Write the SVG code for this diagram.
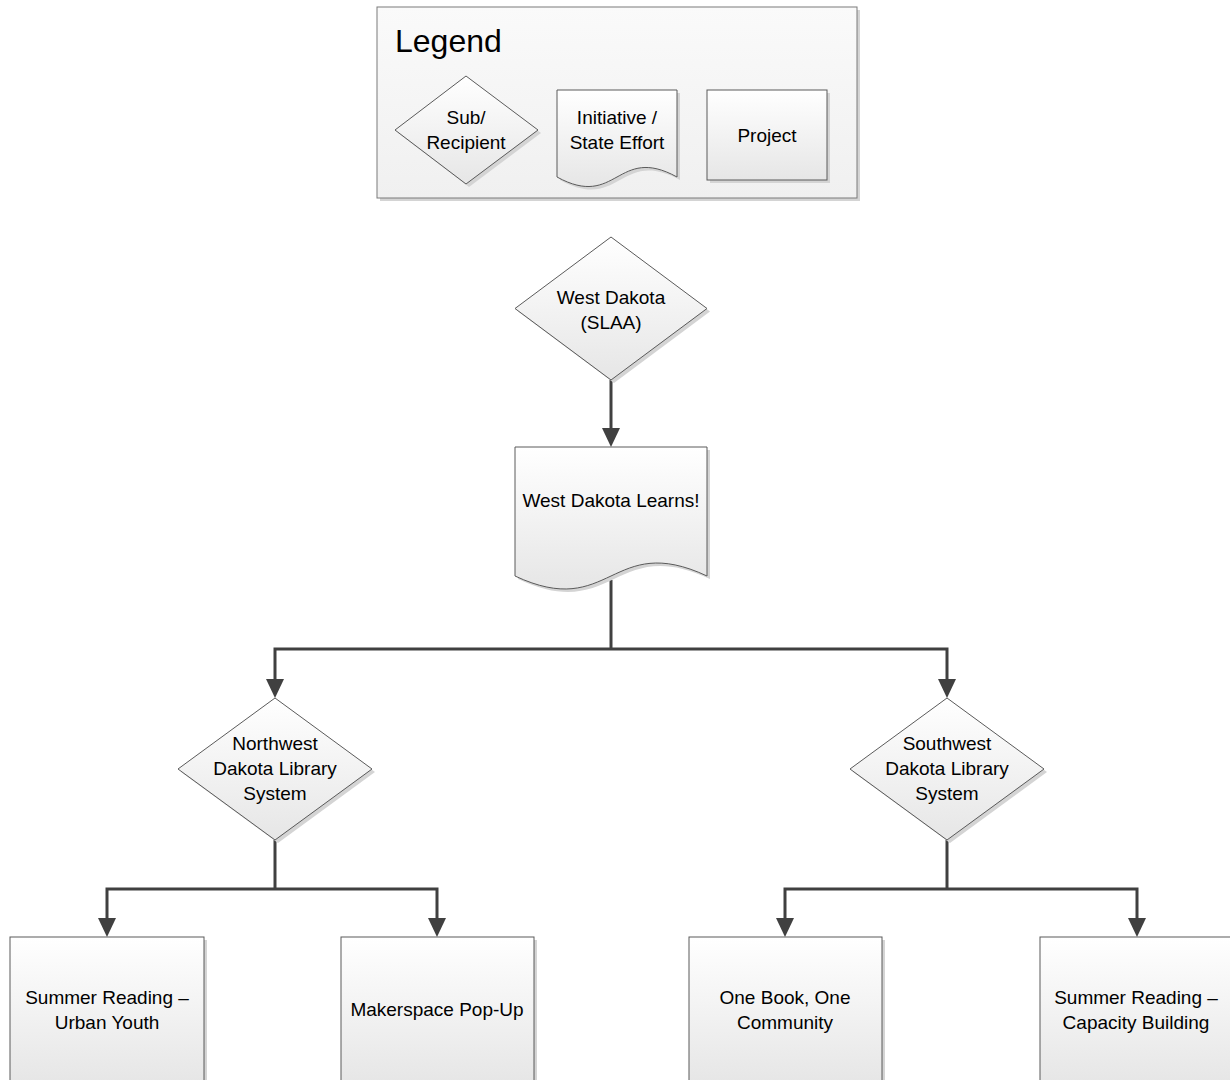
<svg xmlns="http://www.w3.org/2000/svg" width="1230" height="1080" viewBox="0 0 1230 1080">
<style>
.t{font-family:"Liberation Sans",Arial,sans-serif;font-size:19px;fill:#000;text-anchor:middle}
.shape{fill:url(#g);stroke:#5a5a5a;stroke-width:1}
.shadow{fill:#d4d4d4;stroke:none}
.conn{fill:none;stroke:#404040;stroke-width:3;stroke-linejoin:miter}
.arr{marker-end:url(#ah)}
</style>
<defs>
<linearGradient id="g" x1="0" y1="0" x2="0" y2="1">
<stop offset="0" stop-color="#ffffff"/>
<stop offset="1" stop-color="#e6e6e6"/>
</linearGradient>
<linearGradient id="lg" x1="0" y1="0" x2="0" y2="1">
<stop offset="0" stop-color="#fafafa"/>
<stop offset="1" stop-color="#f0f0f0"/>
</linearGradient>
<marker id="ah" viewBox="0 0 19 18" refX="11" refY="9" markerWidth="19" markerHeight="18" markerUnits="userSpaceOnUse" orient="auto">
<path d="M0,0 L19,9 L0,18 z" fill="#404040"/>
</marker>
</defs>
<rect width="1230" height="1080" fill="#ffffff"/>

<g id="legend">
<rect class="shadow" x="380" y="10" width="480" height="191"/>
<rect x="377" y="7" width="480" height="191" fill="url(#lg)" stroke="#7a7a7a" stroke-width="1"/>
<text x="395" y="52" style="font-family:'Liberation Sans',Arial,sans-serif;font-size:32px;fill:#000">Legend</text>
<g id="legend-subrecipient">
<polygon class="shadow" points="469,79 541,133 469,187 398,133"/>
<polygon class="shape" points="466,76 538,130 466,184 395,130"/>
<text class="t" x="466" y="124">Sub/</text>
<text class="t" x="466" y="149">Recipient</text>
</g>
<g id="legend-initiative">
<path class="shadow" d="M560,93 H680 V180 C620,147 620,213 560,180 Z"/>
<path class="shape" d="M557,90 H677 V177 C617,144 617,210 557,177 Z"/>
<text class="t" x="617" y="124">Initiative /</text>
<text class="t" x="617" y="149">State Effort</text>
</g>
<g id="legend-project">
<rect class="shadow" x="710" y="93" width="120" height="90"/>
<rect class="shape" x="707" y="90" width="120" height="90"/>
<text class="t" x="767" y="142">Project</text>
</g>
</g>

<g id="connectors">
<path class="conn arr" d="M611,380 V439"/>
<path class="conn" d="M611,580 V649"/>
<path class="conn arr" d="M611,649 H275 V690"/>
<path class="conn arr" d="M611,649 H947 V690"/>
<path class="conn" d="M275,840 V889"/>
<path class="conn arr" d="M275,889 H107 V929"/>
<path class="conn arr" d="M275,889 H437 V929"/>
<path class="conn" d="M947,840 V889"/>
<path class="conn arr" d="M947,889 H785 V929"/>
<path class="conn arr" d="M947,889 H1137 V929"/>
</g>

<g id="west-dakota">
<polygon class="shadow" points="614,240 710,311.5 614,383 518,311.5"/>
<polygon class="shape" points="611,237 707,308.5 611,380 515,308.5"/>
<text class="t" x="611" y="304">West Dakota</text>
<text class="t" x="611" y="329">(SLAA)</text>
</g>

<g id="west-dakota-learns">
<path class="shadow" d="M518,450 H710 V579 C614,534 614,624 518,579 Z"/>
<path class="shape" d="M515,447 H707 V576 C611,531 611,621 515,576 Z"/>
<text class="t" x="611" y="507">West Dakota Learns!</text>
</g>

<g id="northwest">
<polygon class="shadow" points="278,701 375,772 278,843 181,772"/>
<polygon class="shape" points="275,698 372,769 275,840 178,769"/>
<text class="t" x="275" y="750">Northwest</text>
<text class="t" x="275" y="775">Dakota Library</text>
<text class="t" x="275" y="800">System</text>
</g>

<g id="southwest">
<polygon class="shadow" points="950,701 1047,772 950,843 853,772"/>
<polygon class="shape" points="947,698 1044,769 947,840 850,769"/>
<text class="t" x="947" y="750">Southwest</text>
<text class="t" x="947" y="775">Dakota Library</text>
<text class="t" x="947" y="800">System</text>
</g>

<g id="summer-urban">
<rect class="shadow" x="13" y="940" width="194" height="146"/>
<rect class="shape" x="10" y="937" width="194" height="146"/>
<text class="t" x="107" y="1004">Summer Reading –</text>
<text class="t" x="107" y="1029">Urban Youth</text>
</g>

<g id="makerspace">
<rect class="shadow" x="344" y="940" width="193" height="146"/>
<rect class="shape" x="341" y="937" width="193" height="146"/>
<text class="t" x="437" y="1016">Makerspace Pop-Up</text>
</g>

<g id="one-book">
<rect class="shadow" x="692" y="940" width="193" height="146"/>
<rect class="shape" x="689" y="937" width="193" height="146"/>
<text class="t" x="785" y="1004">One Book, One</text>
<text class="t" x="785" y="1029">Community</text>
</g>

<g id="summer-capacity">
<rect class="shadow" x="1043" y="940" width="193" height="146"/>
<rect class="shape" x="1040" y="937" width="193" height="146"/>
<text class="t" x="1136" y="1004">Summer Reading –</text>
<text class="t" x="1136" y="1029">Capacity Building</text>
</g>
</svg>
